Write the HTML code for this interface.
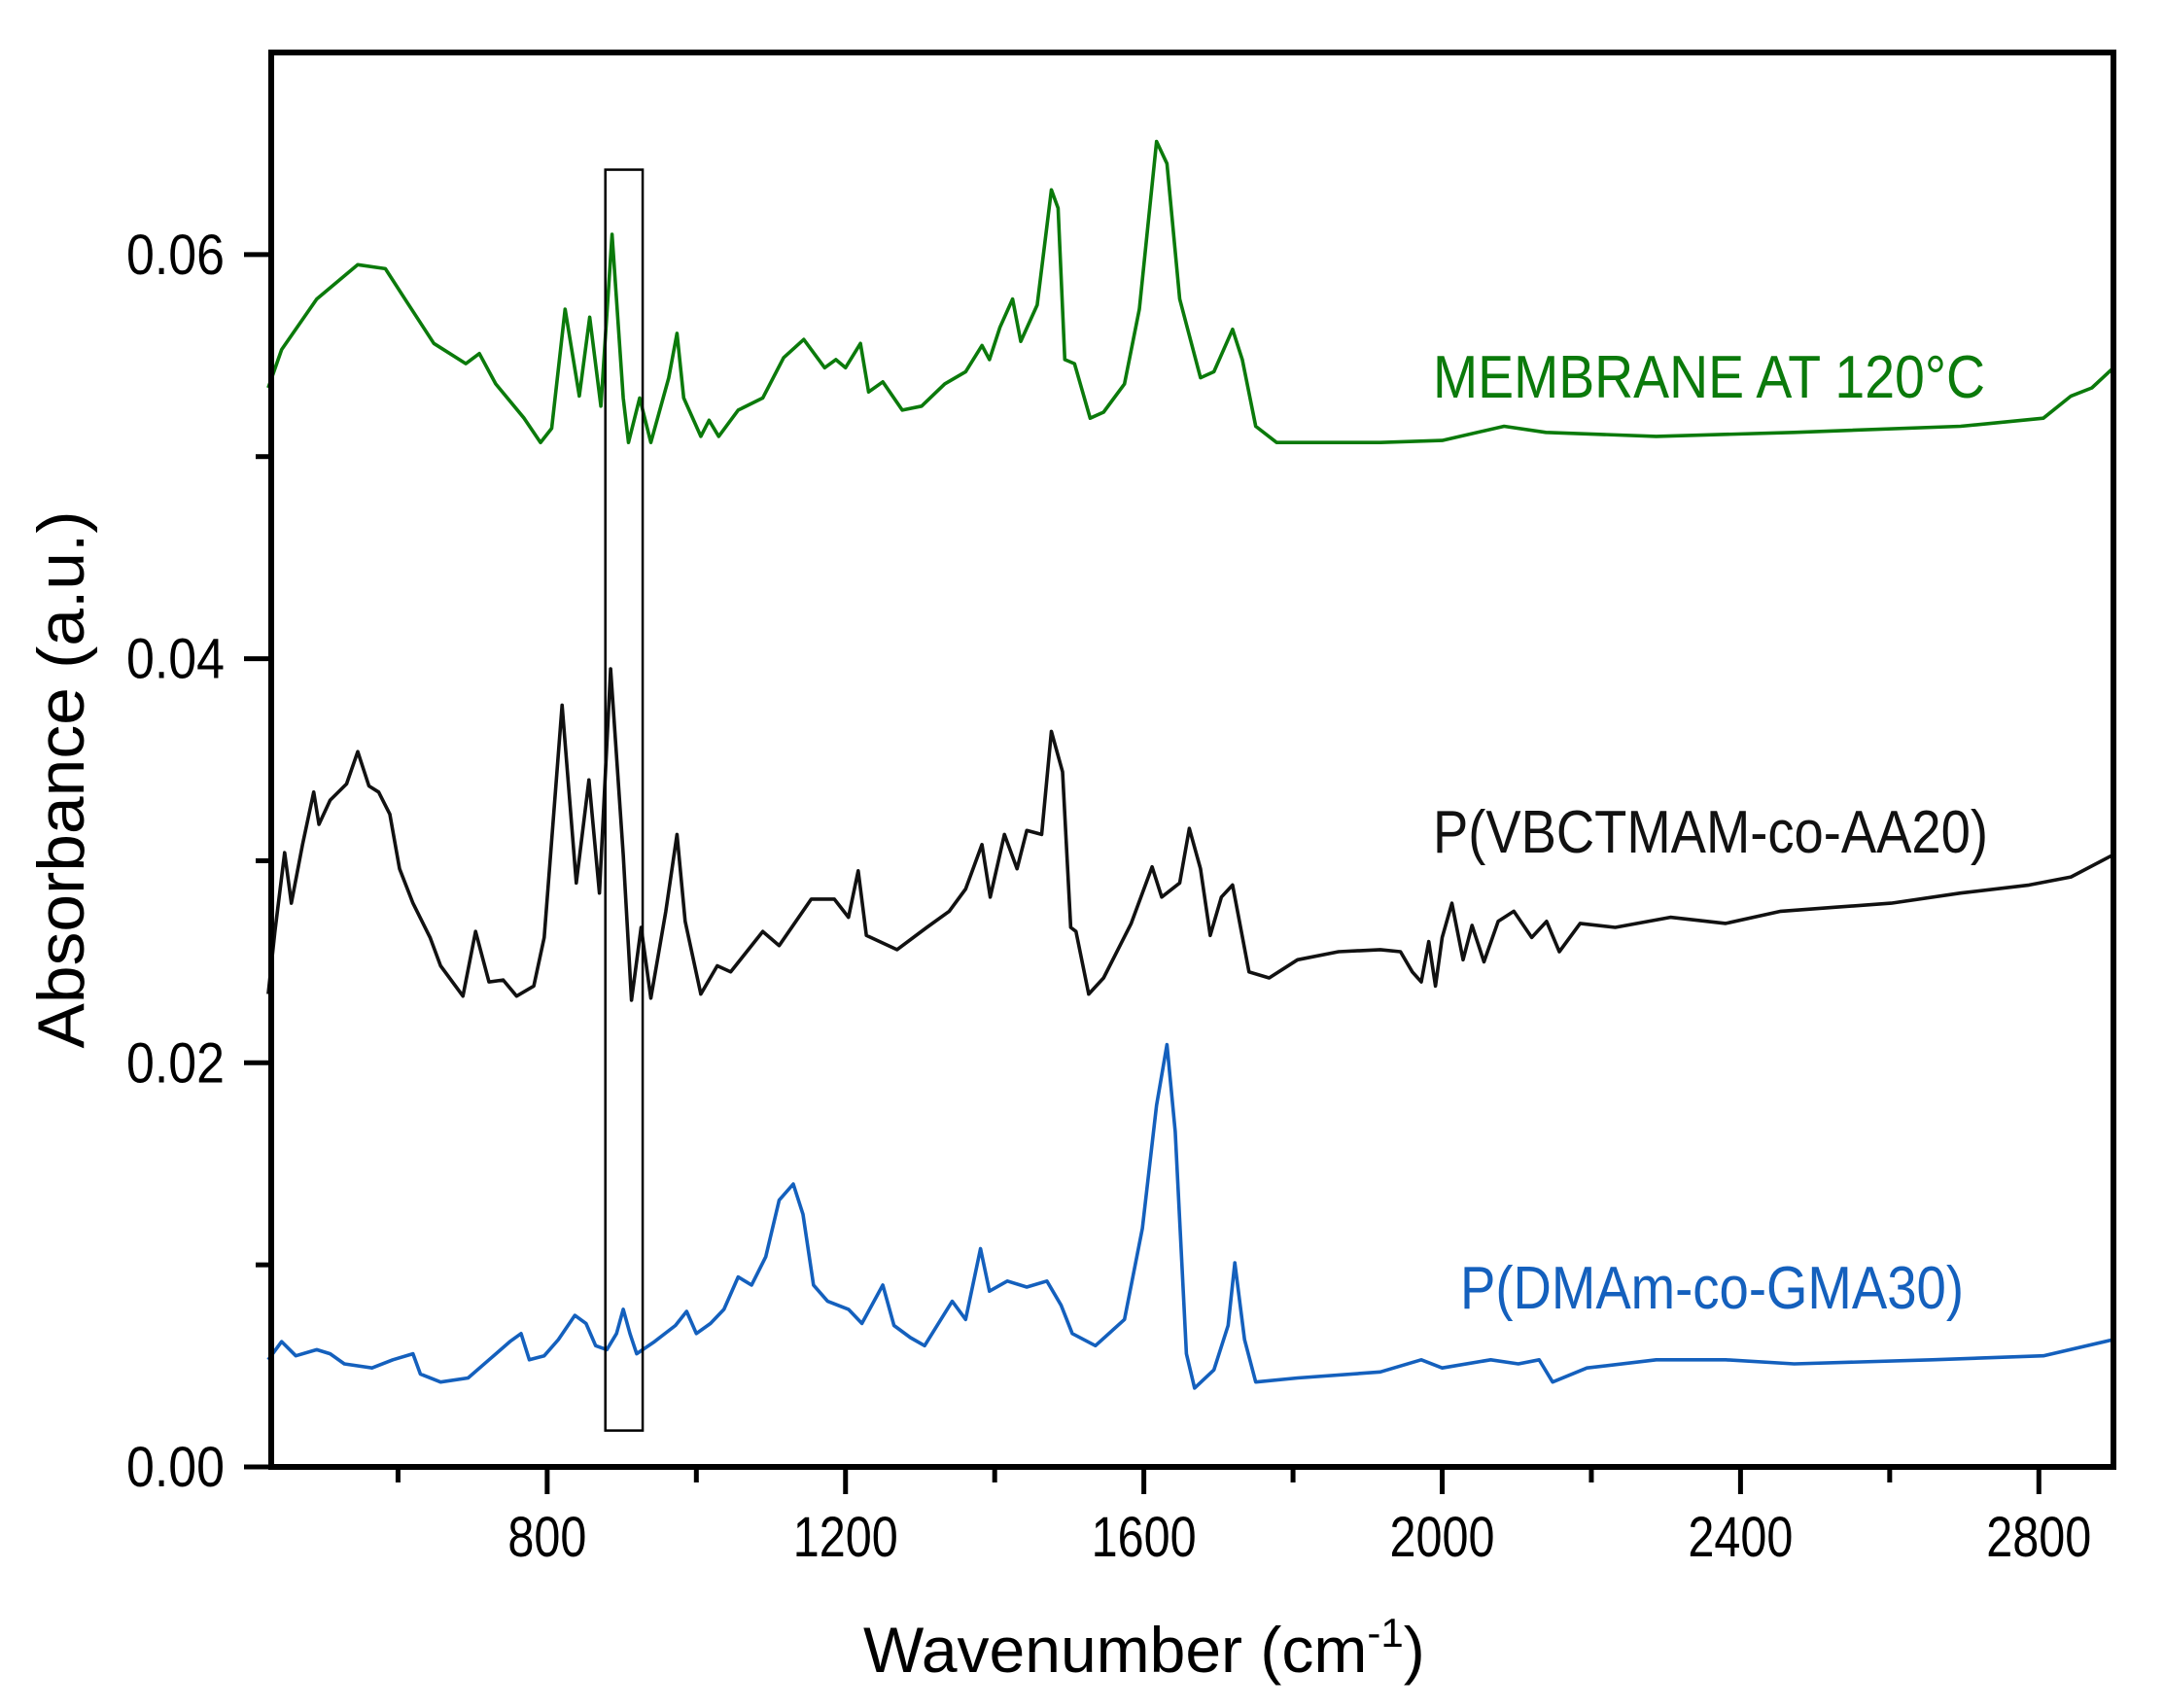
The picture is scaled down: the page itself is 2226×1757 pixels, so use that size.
<!DOCTYPE html>
<html><head><meta charset="utf-8"><style>
html,body{margin:0;padding:0;background:#fff;}
svg{display:block;font-family:"Liberation Sans",Arial,sans-serif;}
</style></head><body>
<svg id="chart" width="2226" height="1757" viewBox="0 0 2226 1757"></svg>
<script>
const xTicks=[800,1200,1600,2000,2400,2800];
const xMinor=[600,1000,1400,1800,2200,2600];
const yTicks=[0,0.02,0.04,0.06];
const yTickLabels=["0.00","0.02","0.04","0.06"];
const yMinor=[0.01,0.03,0.05];
const greenWn=[426,444,491,546,583,611,648,691,709,731,769,791,806,824,843,857,872,887,902,909,924,939,963,974,983,1006,1017,1030,1056,1089,1117,1144,1172,1187,1200,1220,1231,1250,1276,1302,1333,1361,1383,1393,1407,1424,1435,1457,1476,1485,1494,1507,1528,1546,1574,1594,1617,1631,1648,1676,1694,1719,1732,1750,1778,1917,2000,2083,2139,2287,2472,2695,2806,2843,2871,2900];
const greenAbs=[0.0534,0.0553,0.0578,0.0595,0.0593,0.0577,0.0556,0.0546,0.0551,0.0536,0.0519,0.0507,0.0514,0.0573,0.0530,0.0569,0.0525,0.0610,0.0529,0.0507,0.0529,0.0507,0.0539,0.0561,0.0529,0.0510,0.0518,0.0510,0.0523,0.0529,0.0549,0.0558,0.0544,0.0548,0.0544,0.0556,0.0532,0.0537,0.0523,0.0525,0.0536,0.0542,0.0555,0.0548,0.0564,0.0578,0.0557,0.0575,0.0632,0.0623,0.0548,0.0546,0.0519,0.0522,0.0536,0.0573,0.0656,0.0645,0.0578,0.0539,0.0542,0.0563,0.0548,0.0515,0.0507,0.0507,0.0508,0.0515,0.0512,0.0510,0.0512,0.0515,0.0519,0.0530,0.0534,0.0544];
const blackWn=[426,435,448,457,472,487,494,509,531,546,561,574,589,602,620,643,657,687,704,722,741,759,782,796,820,839,856,870,885,902,913,926,939,959,974,985,1006,1028,1046,1089,1111,1154,1185,1204,1217,1228,1269,1309,1339,1361,1383,1394,1413,1430,1443,1463,1476,1491,1502,1509,1526,1546,1583,1611,1624,1648,1661,1676,1689,1704,1719,1741,1768,1806,1861,1917,1944,1960,1972,1982,1991,2000,2013,2028,2040,2056,2075,2096,2120,2140,2157,2185,2232,2306,2380,2454,2528,2602,2695,2787,2843,2900];
const blackAbs=[0.0234,0.0265,0.0304,0.0279,0.0308,0.0334,0.0318,0.0330,0.0338,0.0354,0.0337,0.0334,0.0323,0.0296,0.0279,0.0262,0.0248,0.0233,0.0265,0.0240,0.0241,0.0233,0.0238,0.0262,0.0377,0.0289,0.0340,0.0284,0.0395,0.0303,0.0231,0.0267,0.0232,0.0275,0.0313,0.0270,0.0234,0.0248,0.0245,0.0265,0.0258,0.0281,0.0281,0.0272,0.0295,0.0263,0.0256,0.0267,0.0275,0.0286,0.0308,0.0282,0.0313,0.0296,0.0315,0.0313,0.0364,0.0344,0.0267,0.0265,0.0234,0.0242,0.0269,0.0297,0.0282,0.0289,0.0316,0.0296,0.0263,0.0282,0.0288,0.0245,0.0242,0.0251,0.0255,0.0256,0.0255,0.0245,0.0240,0.0260,0.0238,0.0262,0.0279,0.0251,0.0268,0.0250,0.0270,0.0275,0.0262,0.0270,0.0255,0.0269,0.0267,0.0272,0.0269,0.0275,0.0277,0.0279,0.0284,0.0288,0.0292,0.0303];
const blueWn=[426,444,463,491,509,528,565,593,620,630,657,694,722,750,765,776,796,815,837,852,865,880,893,902,911,920,944,972,987,1000,1019,1037,1056,1074,1093,1111,1130,1143,1157,1176,1204,1222,1250,1265,1287,1306,1343,1361,1381,1393,1417,1443,1470,1489,1504,1535,1574,1598,1617,1631,1642,1657,1668,1694,1713,1722,1735,1750,1806,1917,1972,2000,2065,2102,2130,2148,2194,2287,2380,2472,2657,2806,2900];
const blueAbs=[0.0053,0.0062,0.0055,0.0058,0.0056,0.0051,0.0049,0.0053,0.0056,0.0046,0.0042,0.0044,0.0053,0.0062,0.0066,0.0053,0.0055,0.0063,0.0075,0.0071,0.0060,0.0058,0.0066,0.0078,0.0066,0.0056,0.0062,0.0070,0.0077,0.0066,0.0071,0.0078,0.0094,0.0090,0.0104,0.0132,0.0140,0.0125,0.0090,0.0082,0.0078,0.0071,0.0090,0.0070,0.0064,0.0060,0.0082,0.0073,0.0108,0.0087,0.0092,0.0089,0.0092,0.0080,0.0066,0.0060,0.0073,0.0118,0.0179,0.0209,0.0166,0.0056,0.0039,0.0048,0.0070,0.0101,0.0063,0.0042,0.0044,0.0047,0.0053,0.0049,0.0053,0.0051,0.0053,0.0042,0.0049,0.0053,0.0053,0.0051,0.0053,0.0055,0.0063];
const boxWn=[878,928];
const boxAbs=[0.0018,0.0642];

const L=279,R=2174,T=54,B=1509,XMIN=430,XMAX=2900,YMIN=0,YMAX=0.070;
const sx=v=>L+(v-XMIN)/(XMAX-XMIN)*(R-L);
const sy=v=>B-(v-YMIN)/(YMAX-YMIN)*(B-T);
const NS="http://www.w3.org/2000/svg";
const svg=document.getElementById('chart');
function mk(tag,attrs,parent){const e=document.createElementNS(NS,tag);for(const k in attrs)e.setAttribute(k,attrs[k]);(parent||svg).appendChild(e);return e;}

function series(wn,ab,color,name){
  const d=wn.map((w,i)=>(i?'L':'M')+sx(w).toFixed(1)+' '+sy(ab[i]).toFixed(1)).join(' ');
  const p=mk('path',{d:d,fill:'none',stroke:color,'stroke-width':3.6,'stroke-linejoin':'round'});
  
  
}
series(greenWn,greenAbs,'#0b7a0b','membrane-120c-line');
series(blackWn,blackAbs,'#111111','p-vbctmam-co-aa20-line');
series(blueWn,blueAbs,'#1460bd','p-dmam-co-gma30-line');

const box=mk('rect',{x:sx(boxWn[0]),y:sy(boxAbs[1]),width:sx(boxWn[1])-sx(boxWn[0]),height:sy(boxAbs[0])-sy(boxAbs[1]),fill:'none',stroke:'#000','stroke-width':2.5});



const frame=mk('rect',{x:L,y:T,width:R-L,height:B-T,fill:'none',stroke:'#000','stroke-width':6});



xTicks.forEach(v=>{
  const t=mk('line',{x1:sx(v),x2:sx(v),y1:B,y2:B+28,stroke:'#000','stroke-width':5});
  
  
  const s=String(v);
  const lb=mk('text',{x:sx(v),y:1601,'font-size':58,'text-anchor':'middle',fill:'#000',textLength:s.length*27,lengthAdjust:'spacingAndGlyphs'});
  lb.textContent=s;
  
  
});
xMinor.forEach(v=>{
  const t=mk('line',{x1:sx(v),x2:sx(v),y1:B,y2:B+16,stroke:'#000','stroke-width':5});
  
  
});
yTicks.forEach((v,i)=>{
  const t=mk('line',{x1:L-28,x2:L,y1:sy(v),y2:sy(v),stroke:'#000','stroke-width':5});
  
  
  const lb=mk('text',{x:231,y:sy(v)+20,'font-size':58,'text-anchor':'end',fill:'#000',textLength:101,lengthAdjust:'spacingAndGlyphs'});
  lb.textContent=yTickLabels[i];
  
  
});
yMinor.forEach(v=>{
  const t=mk('line',{x1:L-16,x2:L,y1:sy(v),y2:sy(v),stroke:'#000','stroke-width':5});
  
  
});

const xt=mk('text',{x:888,y:1720,'font-size':66,fill:'#000'});
xt.innerHTML='Wavenumber (cm<tspan dy="-26" font-size="42">-1</tspan><tspan dy="26">)</tspan>';


const yt=mk('text',{x:0,y:0,'font-size':68,'text-anchor':'middle',fill:'#000',transform:'translate(86,802) rotate(-90)',textLength:553,lengthAdjust:'spacingAndGlyphs'});
yt.textContent='Absorbance (a.u.)';



function label(txt,x,y,color,w,name){
  const e=mk('text',{x:x,y:y,'font-size':62,fill:color,textLength:w,lengthAdjust:'spacingAndGlyphs'});
  e.textContent=txt;
  
  
}
label('MEMBRANE AT 120°C',1474,409,'#0b7a0b',568,'membrane-label');
label('P(VBCTMAM-co-AA20)',1474,877,'#111',571,'p-vbctmam-label');
label('P(DMAm-co-GMA30)',1502,1346,'#1460bd',518,'p-dmam-label');
</script>
</body></html>
